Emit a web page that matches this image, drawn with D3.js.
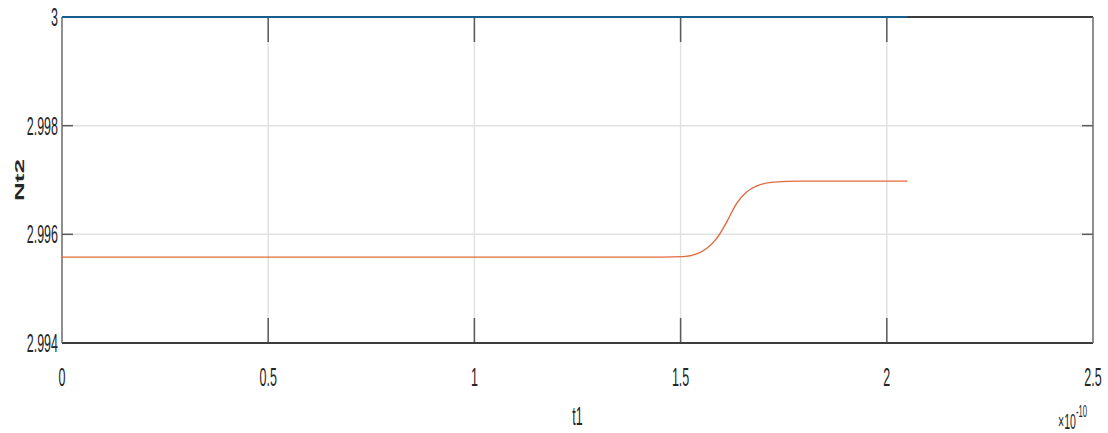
<!DOCTYPE html>
<html>
<head>
<meta charset="utf-8">
<script src="https://cdn.jsdelivr.net/npm/d3@7"></script>
<style>
  html, body { margin: 0; padding: 0; background: #fff; }
  svg { display: block; }
  text { font-family: "Liberation Sans", Arial, sans-serif; fill: #262626; }
</style>
</head>
<body>
<svg id="chart" width="1108" height="433"></svg>
<script>
// Time axis (seconds, shown in units of 1e-10) and Nt2 values
const xTicks = [0, 0.5, 1, 1.5, 2, 2.5];
const xTickLabels = ["0", "0.5", "1", "1.5", "2", "2.5"];
const yTicks = [2.994, 2.996, 2.998, 3];
const yTickLabels = ["2.994", "2.996", "2.998", "3"];

// reference level (blue)
const refT = [0, 2.05];
const refN = [3, 3];

// Nt2 response (orange)
const respT = [0, 1.40, 1.507, 1.539, 1.563, 1.588, 1.612, 1.636, 1.660, 1.685, 1.725, 1.790, 2.05];
const respN = [2.99558, 2.99558, 2.99559, 2.99564, 2.99574, 2.99593, 2.99623, 2.99657, 2.99678, 2.99689, 2.99696, 2.99698, 2.99698];

const svg = d3.select("#chart");
const m = { left: 62, right: 15, top: 17, bottom: 90 };
const W = 1108, H = 433;
const x = d3.scaleLinear().domain([0, 2.5]).range([m.left, W - m.right]);
const y = d3.scaleLinear().domain([2.994, 3]).range([H - m.bottom, m.top]);

const SX = 0.48;     // horizontal squeeze of the lettering
const FS = 26;

// grid
const grid = svg.append("g");
grid.selectAll("line.vg").data(xTicks.slice(1, -1)).join("line")
  .attr("x1", d => x(d)).attr("x2", d => x(d))
  .attr("y1", y(3)).attr("y2", y(2.994))
  .attr("stroke", "#e1e1e1").attr("stroke-width", 1.5);
grid.selectAll("line.hg").data(yTicks.slice(1, -1)).join("line")
  .attr("x1", x(0)).attr("x2", x(2.5))
  .attr("y1", d => y(d)).attr("y2", d => y(d))
  .attr("stroke", "#e1e1e1").attr("stroke-width", 1.5);

// tick marks (inside, on all four sides)
const tk = svg.append("g").attr("stroke", "#5a5a5a").attr("stroke-width", 1.5);
xTicks.slice(1, -1).forEach(d => {
  tk.append("line").attr("x1", x(d)).attr("x2", x(d)).attr("y1", y(2.994)).attr("y2", y(2.994) - 25);
  tk.append("line").attr("x1", x(d)).attr("x2", x(d)).attr("y1", y(3)).attr("y2", y(3) + 25);
});
yTicks.slice(1, -1).forEach(d => {
  tk.append("line").attr("x1", x(0)).attr("x2", x(0) + 11).attr("y1", y(d)).attr("y2", y(d));
  tk.append("line").attr("x1", x(2.5)).attr("x2", x(2.5) - 11).attr("y1", y(d)).attr("y2", y(d));
});

// axes box
svg.append("line").attr("x1", x(0)).attr("x2", x(2.5)).attr("y1", y(2.994)).attr("y2", y(2.994))
  .attr("stroke", "#3c3c3c").attr("stroke-width", 2);
svg.append("line").attr("x1", x(0)).attr("x2", x(2.5)).attr("y1", y(3)).attr("y2", y(3))
  .attr("stroke", "#3c3c3c").attr("stroke-width", 2);
svg.append("line").attr("x1", x(0)).attr("x2", x(0)).attr("y1", y(3)).attr("y2", y(2.994))
  .attr("stroke", "#6a6a6a").attr("stroke-width", 1.5);
svg.append("line").attr("x1", x(2.5)).attr("x2", x(2.5)).attr("y1", y(3)).attr("y2", y(2.994))
  .attr("stroke", "#6a6a6a").attr("stroke-width", 1.5);

// data lines
const line = d3.line().x(d => x(d[0])).y(d => y(d[1])).curve(d3.curveMonotoneX);
svg.append("path").datum(d3.zip(respT, respN)).attr("d", line)
  .attr("fill", "none").attr("stroke", "#e26a3e").attr("stroke-width", 1.4);
svg.append("path").datum(d3.zip(refT, refN)).attr("d", line)
  .attr("fill", "none").attr("stroke", "#175d8c").attr("stroke-width", 2);

// tick labels
const lab = svg.append("g").attr("font-size", FS);
xTicks.forEach((d, i) => {
  lab.append("text").attr("transform", `translate(${x(d)},${y(2.994) + 43}) scale(${SX},1)`)
    .attr("text-anchor", "middle").text(xTickLabels[i]);
});
yTicks.forEach((d, i) => {
  lab.append("text").attr("transform", `translate(${x(0) - 4},${y(d) + 9}) scale(${SX},1)`)
    .attr("text-anchor", "end").text(yTickLabels[i]);
});

// axis titles
svg.append("text").attr("transform", `translate(${x(1.25)},${H - 8}) scale(${SX},1)`)
  .attr("text-anchor", "middle").attr("font-size", FS).text("t1");
svg.append("text").attr("transform", `translate(${24},${y(2.997)}) scale(${SX},1) rotate(-90)`)
  .attr("text-anchor", "middle").attr("font-size", FS).attr("font-weight", "bold").text("Nt2");

// exponent
const ex = svg.append("text").attr("transform", `translate(${W - 50},${H - 4}) scale(${SX},1)`)
  .attr("font-size", 22);
ex.append("tspan").text("×10");
ex.append("tspan").attr("dy", -12).attr("font-size", 16).text("-10");
</script>
</body>
</html>
